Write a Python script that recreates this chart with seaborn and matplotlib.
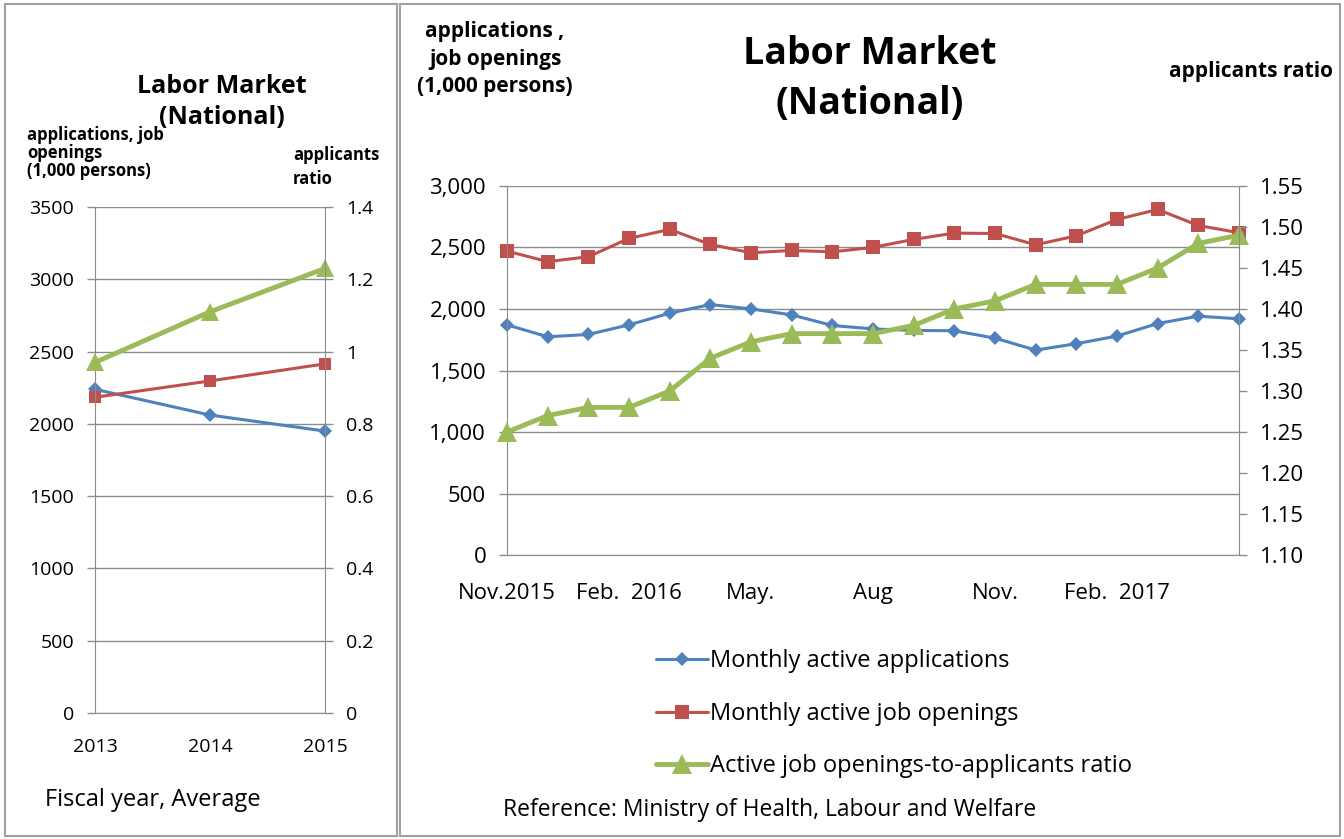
import numpy as np
import pandas as pd
import matplotlib.pyplot as plt
import seaborn as sns
from matplotlib.patches import Rectangle

# --- data: fiscal year averages ---
fy_years = [2013, 2014, 2015]
fy_applications = [2239, 2061, 1950]
fy_openings = [2184, 2297, 2415]
fy_ratio = [0.97, 1.11, 1.23]

# --- data: monthly, Nov 2015 .. May 2017 ---
month_labels = ['Nov.2015', '', '', 'Feb.  2016', '', '', 'May.', '', '',
                'Aug', '', '', 'Nov.', '', '', 'Feb.  2017', '', '', '']
mo_applications = [1871, 1774, 1793, 1871, 1966, 2036, 2001, 1952, 1866, 1838,
                   1826, 1823, 1763, 1666, 1718, 1780, 1882, 1942, 1920]
mo_openings = [2471, 2385, 2425, 2574, 2647, 2525, 2457, 2476, 2465, 2501,
               2566, 2617, 2614, 2522, 2595, 2728, 2809, 2679, 2620]
mo_ratio = [1.25, 1.27, 1.28, 1.28, 1.30, 1.34, 1.36, 1.37, 1.37, 1.37,
            1.38, 1.40, 1.41, 1.43, 1.43, 1.43, 1.45, 1.48, 1.49]

BLUE, RED, GREEN = '#4F81BD', '#C0504D', '#9BBB59'
GRID = '#8C8C8C'

sns.set_style('white')
plt.rcParams['font.family'] = ['Open Sans', 'DejaVu Sans']
plt.rcParams['text.color'] = 'black'

W, H = 1344, 839
fig = plt.figure(figsize=(W / 100, H / 100), dpi=100)


def px_axes(x0, y0, x1, y1):
    return fig.add_axes([x0 / W, 1 - y1 / H, (x1 - x0) / W, (y1 - y0) / H])


def style_axes(ax, ax2, size, xpad):
    for a in (ax, ax2):
        for s in a.spines.values():
            s.set_visible(False)
        a.tick_params(colors=GRID, labelcolor='black', labelsize=size,
                      length=6, width=1, direction='out')
        a.tick_params(axis='y', pad=9)
    ax.tick_params(axis='x', pad=xpad)
    ax.spines['left'].set_visible(True)
    ax.spines['bottom'].set_visible(True)
    ax2.spines['right'].set_visible(True)
    for s in ('left', 'bottom'):
        ax.spines[s].set_color(GRID)
    ax2.spines['right'].set_color(GRID)
    ax.yaxis.grid(True, color=GRID, lw=1)
    ax.set_xlabel('')
    ax.set_ylabel('')
    ax2.set_ylabel('')


# panel frames
fig.add_artist(Rectangle((5 / W, 1 - 836 / H), 392 / W, 832 / H, transform=fig.transFigure,
                         fill=False, ec='#A0A0A0', lw=1.5))
fig.add_artist(Rectangle((400 / W, 1 - 836 / H), 940 / W, 832 / H, transform=fig.transFigure,
                         fill=False, ec='#A0A0A0', lw=1.5))

# ---------- left panel ----------
fy = pd.DataFrame({'year': fy_years, 'app': fy_applications,
                   'open': fy_openings, 'ratio': fy_ratio})
axl = px_axes(95, 207, 325, 713)
axl2 = axl.twinx()
sns.lineplot(data=fy, x='year', y='app', ax=axl, color=BLUE, lw=2.2,
             marker='D', markersize=7, markeredgewidth=0)
sns.lineplot(data=fy, x='year', y='open', ax=axl, color=RED, lw=2.2,
             marker='s', markersize=9, markeredgewidth=0)
sns.lineplot(data=fy, x='year', y='ratio', ax=axl2, color=GREEN, lw=3.5,
             marker='^', markersize=13, markeredgewidth=0)
axl.set_xlim(2013, 2015)
axl.set_ylim(0, 3500)
axl.set_yticks(range(0, 3501, 500))
axl.set_xticks(fy_years)
axl2.set_ylim(0, 1.4)
axl2.set_yticks([0, 0.2, 0.4, 0.6, 0.8, 1.0, 1.2, 1.4])
axl2.set_yticklabels(['0', '0.2', '0.4', '0.6', '0.8', '1', '1.2', '1.4'])
style_axes(axl, axl2, 14, 12)
for a in (axl, axl2):
    for ln in a.lines:
        ln.set_clip_on(False)

fig.text(222 / W, 1 - 102 / H, 'Labor Market\n(National)', ha='center', va='center',
         fontsize=18, fontweight='bold', linespacing=1.35)
fig.text(27 / W, 1 - 153 / H, 'applications, job\nopenings\n(1,000 persons)', ha='left',
         va='center', fontsize=12, fontweight='bold', linespacing=1.0)
fig.text(293 / W, 1 - 167 / H, 'applicants\nratio', ha='left', va='center',
         fontsize=12, fontweight='bold', linespacing=1.45)
fig.text(45 / W, 1 - 800 / H, 'Fiscal year, Average', ha='left', va='center', fontsize=17)

# ---------- right panel ----------
mo = pd.DataFrame({'idx': np.arange(len(mo_ratio)), 'app': mo_applications,
                   'open': mo_openings, 'ratio': mo_ratio})
axr = px_axes(507, 186, 1239, 555)
axr2 = axr.twinx()
sns.lineplot(data=mo, x='idx', y='app', ax=axr, color=BLUE, lw=2.2,
             marker='D', markersize=7, markeredgewidth=0, label='Monthly active applications')
sns.lineplot(data=mo, x='idx', y='open', ax=axr, color=RED, lw=2.2,
             marker='s', markersize=10, markeredgewidth=0, label='Monthly active job openings')
sns.lineplot(data=mo, x='idx', y='ratio', ax=axr2, color=GREEN, lw=3.5,
             marker='^', markersize=14, markeredgewidth=0,
             label='Active job openings-to-applicants ratio')
axr.set_xlim(0, len(mo_ratio) - 1)
axr.set_ylim(0, 3000)
axr.set_yticks(range(0, 3001, 500))
axr.set_yticklabels([f'{v:,}' for v in range(0, 3001, 500)])
axr.set_xticks(mo['idx'])
axr.set_xticklabels(month_labels)
axr2.set_ylim(1.10, 1.55)
axr2.set_yticks(np.arange(1.10, 1.551, 0.05))
axr2.set_yticklabels([f'{v:.2f}' for v in np.arange(1.10, 1.551, 0.05)])
style_axes(axr, axr2, 16, 14)
for a in (axr, axr2):
    for ln in a.lines:
        ln.set_clip_on(False)

h1, l1 = axr.get_legend_handles_labels()
h2, l2 = axr2.get_legend_handles_labels()
axr.get_legend().remove()
axr2.get_legend().remove()
fig.legend(h1 + h2, l1 + l2, loc='upper left', bbox_to_anchor=(647 / W, 1 - 640 / H),
           frameon=False, fontsize=17, labelspacing=1.2, handlelength=2.2,
           handletextpad=0.05, borderaxespad=0)

fig.text(870 / W, 1 - 79 / H, 'Labor Market\n(National)', ha='center', va='center',
         fontsize=27, fontweight='bold', linespacing=1.4)
fig.text(495 / W, 1 - 59 / H, 'applications ,\njob openings\n(1,000 persons)', ha='center',
         va='center', fontsize=15, fontweight='bold', linespacing=1.4)
fig.text(1251 / W, 1 - 72 / H, 'applicants ratio', ha='center', va='center',
         fontsize=15, fontweight='bold')
fig.text(503 / W, 1 - 810 / H, 'Reference: Ministry of Health, Labour and Welfare',
         ha='left', va='center', fontsize=16.5)

fig.savefig('out.png', dpi=100)
